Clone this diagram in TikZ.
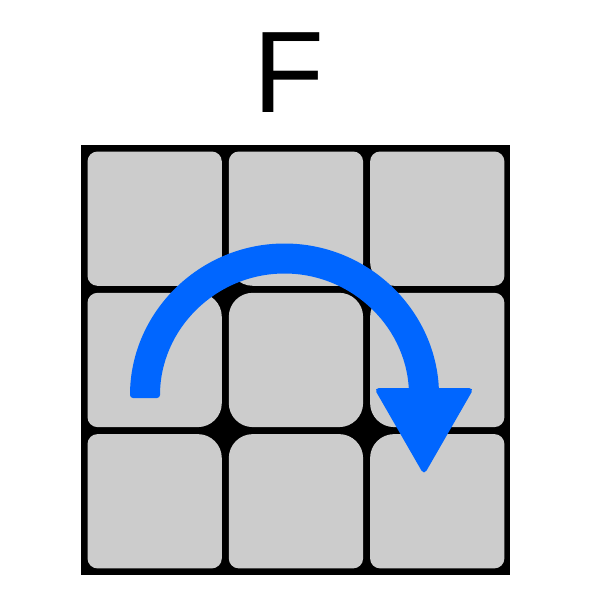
\documentclass[tikz,border=0pt]{standalone}
\usepackage{fontspec}
\newfontfamily\labelfont{Liberation Sans}
\definecolor{tilegrey}{HTML}{CCCCCC}
\definecolor{arrowblue}{HTML}{0066FF}
\newcommand\facetile[8]{%
  \fill[tilegrey] ({#1+#5},#2) -- ({#3-#6},#2) arc[start angle=270, end angle=360, radius=#6]
    -- (#3,{#4-#7}) arc[start angle=0, end angle=90, radius=#7]
    -- ({#1+#8},#4) arc[start angle=90, end angle=180, radius=#8]
    -- (#1,{#2+#5}) arc[start angle=180, end angle=270, radius=#5] -- cycle;}
\begin{document}
\begin{tikzpicture}[x=1pt,y=1pt,yscale=-1,
  facecolor/.style={fill=black},
  turnarrow/.style={fill=arrowblue, rounded corners=3pt},
  arrowhead/.style={fill=arrowblue, rounded corners=5pt}]
\useasboundingbox (0,0) rectangle (600,600);
\node[font=\labelfont\fontsize{116}{116}\selectfont, anchor=base, inner sep=0pt] (title) at (289,112) {F};
\fill[facecolor] (81,145) rectangle (510,575);
% row 1
\facetile{87.5}{151.5}{221.8}{285.8}{10}{10}{24}{10}
\facetile{228.8}{151.5}{363.1}{285.8}{10}{10}{24}{24}
\facetile{370.1}{151.5}{504.4}{285.8}{10}{10}{10}{24}
% row 2
\facetile{87.5}{292.8}{221.8}{427.1}{10}{24}{24}{10}
\facetile{228.8}{292.8}{363.1}{427.1}{24}{24}{24}{24}
\facetile{370.1}{292.8}{504.4}{427.1}{24}{10}{10}{24}
% row 3
\facetile{87.5}{434.1}{221.8}{568.4}{10}{24}{10}{10}
\facetile{228.8}{434.1}{363.1}{568.4}{24}{24}{10}{10}
\facetile{370.1}{434.1}{504.4}{568.4}{24}{10}{10}{10}
% arrow
\fill[turnarrow] (130,398) arc[start angle=180, end angle=360, radius=154.5]
  -- (409,398) arc[start angle=0, end angle=-180, radius=124.5] -- cycle;
\fill[arrowhead] (374,388) -- (474,388) -- (424,475) -- cycle;
\end{tikzpicture}
\end{document}
